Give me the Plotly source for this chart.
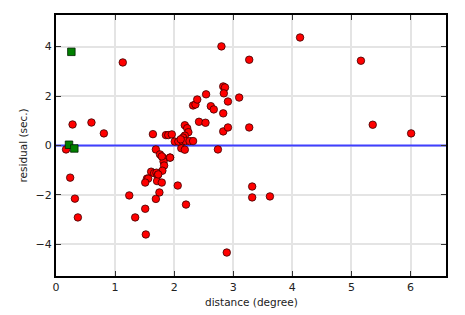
import plotly.graph_objects as go

# red points: distance (degree), residual (sec.)
red_x = [1.13, 0.28, 0.60, 0.81, 0.17, 0.24, 0.32, 0.37, 1.24, 1.34, 1.51, 1.52, 2.89, 2.06, 2.20,
         1.69, 1.75, 1.69, 1.76, 1.81, 1.93, 1.82, 1.83, 1.80, 1.61, 1.66, 1.70, 1.72, 1.54, 1.56,
         1.51, 1.71, 1.79, 1.73, 2.12, 2.18, 2.74, 1.64, 1.86, 1.90, 1.96, 2.18, 2.22, 2.24, 2.18,
         2.15, 2.01, 2.07, 2.14, 2.19, 2.26, 2.32, 2.11, 2.42, 2.53, 2.83, 2.91, 3.27, 2.32, 2.36,
         2.39, 2.54, 2.62, 2.67, 2.83, 2.91, 3.10, 2.83, 2.86, 2.84, 2.80, 3.27, 4.13, 5.16, 5.36,
         6.01, 3.32, 3.32, 3.62, 1.79, 1.93]
red_y = [3.36, 0.85, 0.93, 0.49, -0.16, -1.30, -2.15, -2.91, -2.02, -2.91, -2.56, -3.60, -4.33, -1.62, -2.39,
         -2.16, -1.90, -0.16, -0.36, -0.49, -0.49, -0.65, -0.81, -1.02, -1.06, -1.12, -1.10, -1.20, -1.34, -1.34,
         -1.50, -1.44, -1.50, -1.17, -0.11, -0.17, -0.16, 0.46, 0.42, 0.42, 0.45, 0.82, 0.70, 0.54, 0.40,
         0.32, 0.16, 0.16, 0.18, 0.18, 0.18, 0.18, 0.25, 0.96, 0.92, 0.57, 0.73, 0.73, 1.62, 1.66,
         1.86, 2.07, 1.59, 1.46, 1.30, 1.78, 1.94, 2.39, 2.35, 2.11, 4.01, 3.47, 4.37, 3.43, 0.84,
         0.49, -1.66, -2.10, -2.06, -0.44, -0.49]

# green squares
green_x = [0.26, 0.22, 0.31]
green_y = [3.79, 0.03, -0.12]

# zero reference line
line_x = [0, 6.6]
line_y = [0, 0]

x_ticks = [0, 1, 2, 3, 4, 5, 6]
y_ticks = [-4, -2, 0, 2, 4]

FONT = "DejaVu Sans"
TXT = "#222222"

fig = go.Figure()
fig.add_trace(go.Scatter(x=line_x, y=line_y, mode="lines",
                         line=dict(color="#3f3fff", width=2), hoverinfo="skip"))
fig.add_trace(go.Scatter(x=red_x, y=red_y, mode="markers",
                         marker=dict(color="#ff0000", size=7.5, symbol="circle",
                                     line=dict(color="#3a0000", width=0.8))))
fig.add_trace(go.Scatter(x=green_x, y=green_y, mode="markers",
                         marker=dict(color="#008000", size=7.5, symbol="square",
                                     line=dict(color="#002000", width=0.8))))

axis_common = dict(
    showgrid=True, gridcolor="#e4e4e4", gridwidth=1.5,
    showline=True, linecolor="black", linewidth=2, mirror="ticks",
    ticks="inside", ticklen=5, tickwidth=1, tickcolor="#333333",
    zeroline=False, automargin=False,
    tickfont=dict(family=FONT, size=11, color=TXT),
)

fig.update_layout(
    width=465, height=315,
    margin=dict(l=56, r=19, t=15, b=39),
    paper_bgcolor="white", plot_bgcolor="white",
    showlegend=False,
    xaxis=dict(range=[0, 6.6], tickvals=x_ticks, ticktext=[str(v) for v in x_ticks],
               **axis_common),
    yaxis=dict(range=[-5.28, 5.28], tickvals=y_ticks, ticktext=["\u22124", "\u22122", "0", "2", "4"],
               **axis_common),
    annotations=[
        dict(text="distance (degree)", xref="paper", yref="paper", x=0.5, y=0,
             yshift=-18, xanchor="center", yanchor="top", showarrow=False,
             font=dict(family=FONT, size=10.5, color=TXT)),
        dict(text="residual (sec.)", xref="paper", yref="paper", x=0, y=0.5,
             xshift=-26, xanchor="right", yanchor="middle", textangle=-90, showarrow=False,
             font=dict(family=FONT, size=10.5, color=TXT)),
    ],
)

fig.write_html("out.html")
